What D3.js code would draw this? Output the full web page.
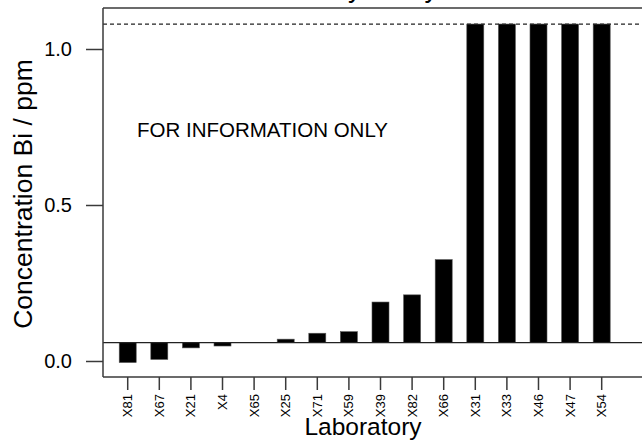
<!DOCTYPE html>
<html>
<head>
<meta charset="utf-8">
<script src="https://cdn.jsdelivr.net/npm/d3@7"></script>
<style>
  html, body { margin: 0; padding: 0; background: #fff; }
  svg { display: block; }
  text { font-family: "Liberation Sans", Arial, Helvetica, sans-serif; }
</style>
</head>
<body>
<svg id="chart" width="642" height="441"></svg>
<script>
// ---- data ----
const labs = ["X81","X67","X21","X4","X65","X25","X71","X59","X39","X82","X66","X31","X33","X46","X47","X54"];
const values = [-0.005, 0.005, 0.042, 0.048, 0.0587, 0.07, 0.089, 0.094, 0.189, 0.212, 0.325, 1.08, 1.08, 1.08, 1.08, 1.08];
const referenceValue = 0.0587;   // assigned value (solid line)
const upperLimit = 1.08;         // dashed line / plot cap
const yTicks = [0.0, 0.5, 1.0];
const titleText = "Proficiency Study";
const yTitle = "Concentration Bi / ppm";
const xTitle = "Laboratory";
const note = "FOR INFORMATION ONLY";

// ---- layout ----
const svg = d3.select("#chart");
const plotLeft = 103, plotTop = 8, plotBottom = 377, plotRight = 642;

const y = d3.scaleLinear().domain([-0.0513, 1.1314]).range([plotBottom, plotTop]);
const x = d3.scaleBand().domain(labs).range([plotLeft, 626.4])
  .paddingInner(0.462).paddingOuter(0.513);

const axisColor = "#3a3a3a";

// clipped title (only descenders visible in reference)
svg.append("text").attr("x", 229.5).attr("y", -3)
  .attr("font-size", 27).attr("fill", "#000").text(titleText);

// bars
svg.append("g").selectAll("rect").data(labs).join("rect")
  .attr("x", d => x(d))
  .attr("width", x.bandwidth())
  .attr("y", (d, i) => y(Math.max(values[i], referenceValue)))
  .attr("height", (d, i) => Math.abs(y(values[i]) - y(referenceValue)))
  .attr("fill", "#000")
  .attr("stroke", "#555").attr("stroke-width", 0.6);

// reference line
svg.append("line")
  .attr("x1", plotLeft).attr("x2", plotRight)
  .attr("y1", y(referenceValue)).attr("y2", y(referenceValue))
  .attr("stroke", "#222").attr("stroke-width", 1.2);

// dashed upper line
svg.append("line")
  .attr("x1", plotLeft).attr("x2", plotRight)
  .attr("y1", y(upperLimit)).attr("y2", y(upperLimit))
  .attr("stroke", "#222").attr("stroke-width", 1.2)
  .attr("stroke-dasharray", "4,3");

// frame top line
svg.append("line").attr("x1", plotLeft).attr("x2", plotRight)
  .attr("y1", plotTop).attr("y2", plotTop)
  .attr("stroke", axisColor).attr("stroke-width", 1.5);

// y axis
const yAxis = d3.axisLeft(y).tickValues(yTicks).tickFormat(d3.format(".1f"))
  .tickSize(17).tickPadding(14).tickSizeOuter(0);
const gy = svg.append("g").attr("transform", `translate(${plotLeft},0)`).call(yAxis);
gy.select(".domain").attr("stroke", axisColor).attr("stroke-width", 1.5)
  .attr("d", `M0,${plotTop}V${plotBottom}`);
gy.selectAll(".tick line").attr("stroke", axisColor).attr("stroke-width", 1.5);
gy.selectAll(".tick text").attr("font-size", 20).attr("fill", "#000")
  .attr("font-family", "Liberation Sans, Arial, sans-serif");

// x axis
const xAxis = d3.axisBottom(x).tickSize(13).tickSizeOuter(0);
const gx = svg.append("g").attr("transform", `translate(0,${plotBottom})`).call(xAxis);
gx.select(".domain").attr("stroke", axisColor).attr("stroke-width", 1.5)
  .attr("d", `M${plotLeft},0H${plotRight}`);
gx.selectAll(".tick line").attr("stroke", axisColor).attr("stroke-width", 1.5);
gx.selectAll(".tick text")
  .attr("font-size", 13).attr("fill", "#000")
  .attr("font-family", "Liberation Sans, Arial, sans-serif")
  .attr("text-anchor", "end")
  .attr("transform", "rotate(-90)")
  .attr("x", -17).attr("y", 0).attr("dy", "0.35em");

// axis titles
svg.append("text").attr("x", 363).attr("y", 435)
  .attr("text-anchor", "middle").attr("font-size", 24.5).attr("fill", "#000")
  .text(xTitle);
svg.append("text").attr("transform", "translate(32,194) rotate(-90)")
  .attr("text-anchor", "middle").attr("font-size", 26.5).attr("fill", "#000")
  .text(yTitle);

// note
svg.append("text").attr("x", 137).attr("y", 137)
  .attr("font-size", 20.5).attr("fill", "#000").text(note);
</script>
</body>
</html>
